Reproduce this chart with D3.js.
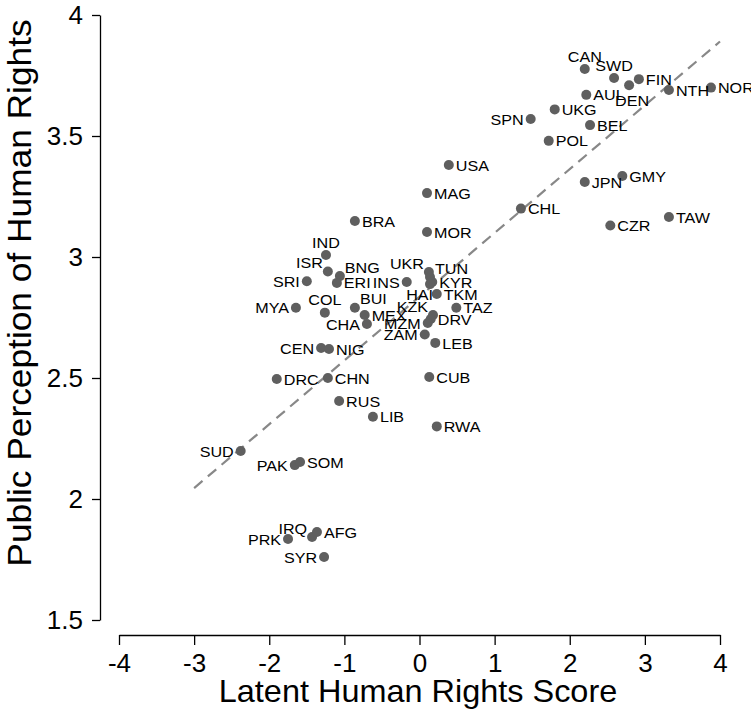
<!DOCTYPE html>
<html>
<head>
<meta charset="utf-8">
<script src="https://cdn.jsdelivr.net/npm/d3@7"></script>
<style>
  body { margin: 0; background: #fff; }
  svg { display: block; font-family: "Liberation Sans", Arial, sans-serif; }
</style>
</head>
<body>
<svg width="751" height="710"></svg>
<script>
// country codes and values
var countries = ["CAN","SWD","DEN","FIN","NTH","NOR","AUL","UKG","SPN","BEL","POL","JPN","GMY","CHL","TAW","CZR",
  "USA","MAG","MOR","BRA","IND","ISR","BNG","ERI","SRI","INS","UKR","TUN","KYR","HAI","TKM",
  "MYA","COL","BUI","MEX","CHA","KZK","DRV","MZM","ZAM","LEB","TAZ",
  "CEN","NIG","DRC","CHN","CUB","RUS","LIB","RWA","SUD","PAK","SOM","IRQ","AFG","PRK","SYR"];
var latent = [2.20,2.59,2.79,2.92,3.32,3.88,2.22,1.80,1.48,2.27,1.72,2.20,2.70,1.35,3.32,2.54,
  0.39,0.10,0.10,-0.86,-1.245,-1.22,-1.06,-1.10,-1.50,-0.17,0.125,0.14,0.17,0.14,0.23,
  -1.645,-1.26,-0.86,-0.73,-0.70,0.18,0.15,0.11,0.07,0.21,0.49,
  -1.31,-1.205,-1.90,-1.22,0.13,-1.07,-0.62,0.23,-2.38,-1.66,-1.59,-1.43,-1.365,-1.75,-1.27];
var perception = [3.777,3.74,3.71,3.735,3.69,3.70,3.67,3.61,3.57,3.545,3.48,3.31,3.335,3.20,3.165,3.13,
  3.38,3.264,3.103,3.149,3.008,2.94,2.921,2.893,2.90,2.897,2.938,2.917,2.897,2.888,2.847,
  2.79,2.77,2.79,2.76,2.723,2.76,2.744,2.727,2.68,2.645,2.79,
  2.624,2.62,2.496,2.50,2.504,2.405,2.34,2.30,2.198,2.14,2.153,1.843,1.864,1.835,1.76];
// where each label sits relative to its dot
var labelPos = ["t","t","b","r","r","r","r","r","l","r","r","r","r","r","r","r",
  "r","r","r","r","t","tl","tr","r","l","l","tl","tr","r","bl","r",
  "l","t","tr","r","l","tl","r","l","l","r","r",
  "l","r","r","r","r","r","r","r","l","l","r","tl","r","l","l"];

var xTicks = [-4,-3,-2,-1,0,1,2,3,4];
var yTicks = [1.5,2,2.5,3,3.5,4];
var fitRange = [-3, 4];
var fitLine = { intercept: 2.836, slope: 0.2636 };

var svg = d3.select("svg");
var x = d3.scaleLinear().domain([-4, 4]).range([119, 720]);
var y = d3.scaleLinear().domain([1.5, 4]).range([620, 15]);

var wide = 1.04;

// y axis
var yAxis = svg.append("g")
    .attr("transform", "translate(100,0)")
    .call(d3.axisLeft(y).tickValues(yTicks).tickSize(8).tickPadding(8)
      .tickFormat(function (d) { return String(d); }).tickSizeOuter(0));
yAxis.selectAll("text")
    .attr("font-size", 25).attr("fill", "#000")
    .attr("x", -17 / wide)
    .attr("transform", "scale(" + wide + ",1)");

// x axis
var xAxis = svg.append("g")
    .attr("transform", "translate(0,635)")
    .call(d3.axisBottom(x).tickValues(xTicks).tickSize(10).tickPadding(9)
      .tickFormat(function (d) { return String(d); }).tickSizeOuter(0));
xAxis.selectAll(".tick text")
    .attr("font-size", 25).attr("fill", "#000")
    .attr("transform", "scale(" + wide + ",1)");
svg.selectAll(".domain, .tick line").attr("stroke", "#000").attr("stroke-width", 1.3);

// axis titles
svg.append("text")
    .attr("transform", "translate(418,702) scale(1.03,1)")
    .attr("text-anchor", "middle")
    .attr("font-size", 31.5)
    .text("Latent Human Rights Score");
svg.append("text")
    .attr("transform", "translate(31,293) rotate(-90) scale(1.07,1)")
    .attr("text-anchor", "middle")
    .attr("font-size", 33)
    .text("Public Perception of Human Rights");

// fitted line
svg.append("line")
    .attr("x1", x(fitRange[0])).attr("y1", y(fitLine.intercept + fitLine.slope * fitRange[0]))
    .attr("x2", x(fitRange[1])).attr("y2", y(fitLine.intercept + fitLine.slope * fitRange[1]))
    .attr("stroke", "#888").attr("stroke-width", 2.2)
    .attr("stroke-dasharray", "11,7");

var data = countries.map(function (c, i) {
  return { name: c, lx: latent[i], py: perception[i], pos: labelPos[i] };
});

// dots
svg.selectAll(".dot")
    .data(data)
  .enter().append("circle")
    .attr("class", "dot")
    .attr("cx", function (d) { return x(d.lx); })
    .attr("cy", function (d) { return y(d.py); })
    .attr("r", 5)
    .attr("fill", "#5f5f5f");

// label offsets
var offs = {
  r:  { dx: 7,  dy: 0,   a: "start" },
  l:  { dx: -7, dy: 0,   a: "end" },
  t:  { dx: 0,  dy: -13, a: "middle" },
  b:  { dx: 3,  dy: 15,  a: "middle" },
  tl: { dx: -5, dy: -9,  a: "end" },
  tr: { dx: 5,  dy: -9,  a: "start" },
  bl: { dx: 3,  dy: 10,  a: "end" }
};

svg.selectAll(".lab")
    .data(data)
  .enter().append("text")
    .attr("class", "lab")
    .attr("transform", function (d) {
      return "translate(" + (x(d.lx) + offs[d.pos].dx) + "," + (y(d.py) + offs[d.pos].dy) + ") scale(1.04,1)";
    })
    .attr("dy", "0.36em")
    .attr("text-anchor", function (d) { return offs[d.pos].a; })
    .attr("font-size", 15.5)
    .attr("fill", "#000")
    .text(function (d) { return d.name; });
</script>
</body>
</html>
